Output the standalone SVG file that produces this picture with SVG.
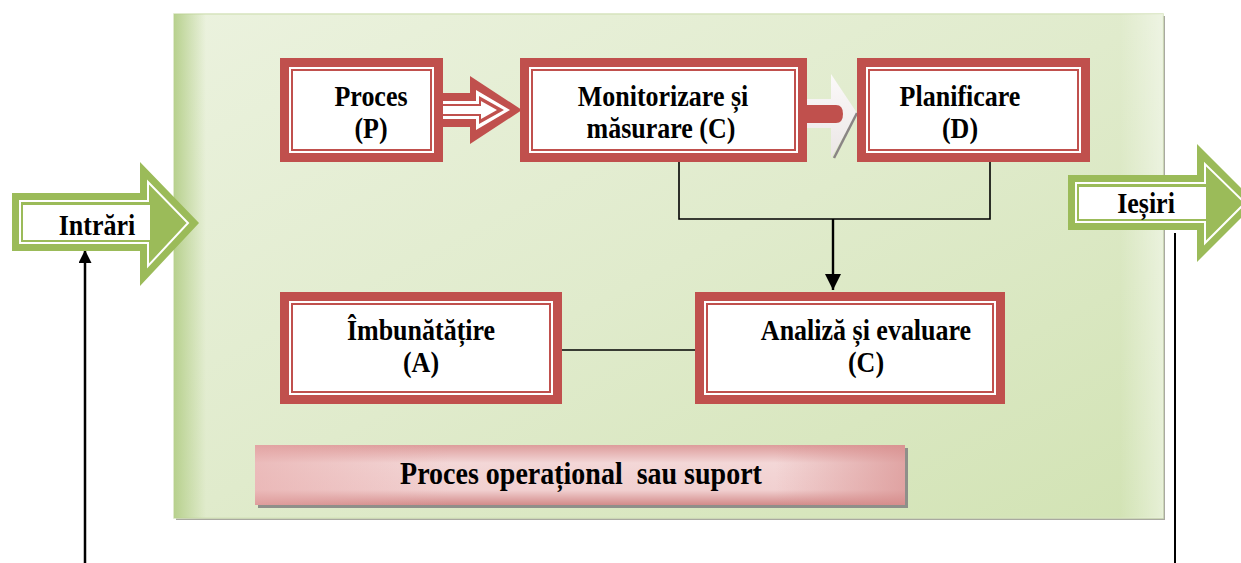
<svg xmlns="http://www.w3.org/2000/svg" width="1241" height="563" viewBox="0 0 1241 563">
  <defs>
    <linearGradient id="panelFill" x1="0" y1="0" x2="1" y2="1">
      <stop offset="0" stop-color="#ebf2de"/>
      <stop offset="0.5" stop-color="#e0ebcc"/>
      <stop offset="1" stop-color="#d2e3b4"/>
    </linearGradient>
    <linearGradient id="panelLeft" x1="0" y1="0" x2="1" y2="0">
      <stop offset="0" stop-color="#b5cf8a" stop-opacity="0.95"/>
      <stop offset="1" stop-color="#b5cf8a" stop-opacity="0"/>
    </linearGradient>
    <linearGradient id="panelRight" x1="0" y1="0" x2="1" y2="0">
      <stop offset="0" stop-color="#ffffff" stop-opacity="0"/>
      <stop offset="1" stop-color="#ffffff" stop-opacity="0.45"/>
    </linearGradient>
    <linearGradient id="barFill" x1="0" y1="0" x2="0" y2="1">
      <stop offset="0" stop-color="#dd9c9b"/>
      <stop offset="0.3" stop-color="#f3d7d7"/>
      <stop offset="0.75" stop-color="#f1d0d0"/>
      <stop offset="1" stop-color="#d38b8a"/>
    </linearGradient>
    <linearGradient id="barSide" x1="0" y1="0" x2="1" y2="0">
      <stop offset="0" stop-color="#e6a9a8" stop-opacity="0.6"/>
      <stop offset="0.3" stop-color="#e6a9a8" stop-opacity="0"/>
      <stop offset="0.8" stop-color="#d88f8e" stop-opacity="0"/>
      <stop offset="1" stop-color="#d88f8e" stop-opacity="0.7"/>
    </linearGradient>
    <linearGradient id="paleArrow" x1="0" y1="0" x2="0" y2="1">
      <stop offset="0" stop-color="#fbf9f9"/>
      <stop offset="1" stop-color="#ebe6e6"/>
    </linearGradient>
    <marker id="headDown" viewBox="0 0 10 10" refX="10" refY="5" markerWidth="16" markerHeight="17" markerUnits="userSpaceOnUse" orient="auto">
      <path d="M0,0 L10,5 L0,10 Z" fill="#000"/>
    </marker>
    <marker id="headUp" viewBox="0 0 10 10" refX="10" refY="5" markerWidth="13" markerHeight="13" markerUnits="userSpaceOnUse" orient="auto">
      <path d="M0,0 L10,5 L0,10 Z" fill="#000"/>
    </marker>
  </defs>
  <style>
    .lbl { font-family: "Liberation Serif", "Times New Roman", serif; font-weight: bold; font-size: 26px; fill: #000; text-anchor: middle; }
    .bar { font-size: 28px; white-space: pre; }
    .frame { fill: #c0504d; }
    .gap { fill: #ffffff; }
    .inner { fill: #ffffff; stroke: #c0504d; stroke-width: 2; }
    .gArrow { fill: #9bbb59; }
    .gLine { fill: none; stroke: #ffffff; stroke-width: 2; }
    .wire { fill: none; stroke: #000; stroke-width: 1.6; }
  </style>

  <rect width="1241" height="563" fill="#ffffff"/>

  <!-- background panel -->
  <g id="panel">
    <rect x="176" y="16" width="989" height="504" fill="#a9a9a0"/>
    <rect x="174" y="14" width="989" height="504" fill="url(#panelFill)" stroke="#d6e4bd" stroke-width="1.5"/>
    <rect x="174" y="14" width="32" height="504" fill="url(#panelLeft)"/>
    <rect x="1120" y="14" width="43" height="504" fill="url(#panelRight)"/>
  </g>

  <!-- connectors -->
  <g id="connectors">
    <polyline class="wire" points="679,160 679,219 990,219 990,162"/>
    <line x1="833" y1="219" x2="833" y2="290" stroke="#000" stroke-width="2.4" marker-end="url(#headDown)"/>
    <line class="wire" x1="562" y1="350" x2="695" y2="350"/>
    <line x1="85" y1="563" x2="85" y2="250" stroke="#000" stroke-width="2.5" marker-end="url(#headUp)"/>
    <line x1="1175" y1="233" x2="1175" y2="563" stroke="#000" stroke-width="2"/>

    <!-- block arrow P to C -->
    <g id="arrowPC">
      <polygon class="frame" points="433,93 470,93 470,76 522,110 470,144 470,127 433,127"/>
      <polygon class="gap" points="433,101 476,101 476,90 510,110 476,130 476,119 433,119"/>
      <polygon fill="#c0504d" points="433,104 479,104 479,96 504,110 479,124 479,116 433,116"/>
      <polygon class="gap" points="433,106 481,106 481,101 497,110 481,119 481,114 433,114"/>
    </g>

    <!-- block arrow C to D -->
    <g id="arrowCD">
      <polygon fill="url(#paleArrow)" points="795,99 831,99 831,74 857,113 831,158 831,128 795,128"/>
      <path d="M805,105 L836,105 Q843,105 843,114 Q843,123 836,123 L805,123 Z" fill="#c0504d"/>
      <line x1="857" y1="113" x2="834" y2="158" stroke="#8a8585" stroke-width="2.5"/>
    </g>
  </g>

  <!-- inputs -->
  <g id="intrari">
    <polygon class="gArrow" points="12,193 140,193 140,162 199,223 140,286 140,251 12,251"/>
    <polygon class="gLine" points="20,201 148,201 148,182 188,223 148,266 148,243 20,243"/>
    <rect x="23" y="205" width="127" height="35" fill="#ffffff"/>
    <text class="lbl" transform="translate(97,235) scale(1,1.12)">Intrări</text>
  </g>

  <!-- outputs -->
  <g id="iesiri">
    <polygon class="gArrow" points="1068,175 1197,175 1197,144 1256,203 1197,262 1197,230 1068,230"/>
    <polygon class="gLine" points="1076,183 1205,183 1205,164 1245,203 1205,243 1205,222 1076,222"/>
    <rect x="1079" y="187" width="127" height="32" fill="#ffffff"/>
    <text class="lbl" transform="translate(1146,213) scale(1,1.12)">Ieșiri</text>
  </g>

  <!-- Proces (P) -->
  <g id="proces">
    <rect class="frame" x="280" y="58" width="163" height="104"/>
    <rect class="gap" x="289" y="67" width="145" height="86"/>
    <rect class="inner" x="292" y="70" width="139" height="80"/>
    <text class="lbl" transform="translate(371,106) scale(1,1.15)">Proces</text>
    <text class="lbl" transform="translate(371,138) scale(1,1.15)">(P)</text>
  </g>

  <!-- Monitorizare si masurare (C) -->
  <g id="monitorizare">
    <rect class="frame" x="520" y="58" width="287" height="104"/>
    <rect class="gap" x="529" y="67" width="269" height="86"/>
    <rect class="inner" x="532" y="70" width="263" height="80"/>
    <text class="lbl" transform="translate(663,106) scale(1,1.15)">Monitorizare și</text>
    <text class="lbl" transform="translate(661,138) scale(1,1.15)">măsurare (C)</text>
  </g>

  <!-- Planificare (D) -->
  <g id="planificare">
    <rect class="frame" x="857" y="58" width="233" height="104"/>
    <rect class="gap" x="866" y="67" width="215" height="86"/>
    <rect class="inner" x="869" y="70" width="209" height="80"/>
    <text class="lbl" transform="translate(960,106) scale(1,1.15)">Planificare</text>
    <text class="lbl" transform="translate(960,138) scale(1,1.15)">(D)</text>
  </g>

  <!-- Imbunatatire (A) -->
  <g id="imbunatatire">
    <rect class="frame" x="280" y="292" width="282" height="112"/>
    <rect class="gap" x="289" y="301" width="264" height="94"/>
    <rect class="inner" x="292" y="304" width="258" height="88"/>
    <text class="lbl" transform="translate(421,340) scale(1,1.15)">Îmbunătățire</text>
    <text class="lbl" transform="translate(421,372) scale(1,1.15)">(A)</text>
  </g>

  <!-- Analiza si evaluare (C) -->
  <g id="analiza">
    <rect class="frame" x="695" y="292" width="310" height="112"/>
    <rect class="gap" x="704" y="301" width="292" height="94"/>
    <rect class="inner" x="707" y="304" width="286" height="88"/>
    <text class="lbl" transform="translate(866,340) scale(1,1.15)">Analiză și evaluare</text>
    <text class="lbl" transform="translate(866,372) scale(1,1.15)">(C)</text>
  </g>

  <!-- process type banner -->
  <g id="tip-proces">
    <rect x="258" y="448" width="650" height="60" fill="#8f8f8a"/>
    <rect x="255" y="445" width="650" height="60" fill="url(#barFill)"/>
    <rect x="255" y="445" width="650" height="60" fill="url(#barSide)"/>
    <text class="lbl bar" transform="translate(581,484) scale(1,1.1)">Proces operațional  sau suport</text>
  </g>
</svg>
